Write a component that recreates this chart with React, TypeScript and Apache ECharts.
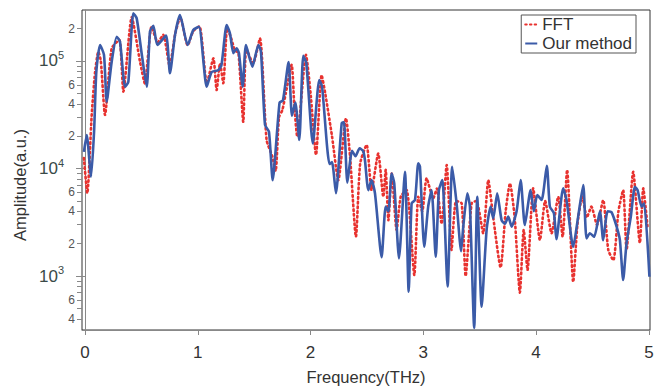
import { useEffect, useRef } from "react";
import * as echarts from "echarts";

const oursFreq = [
  -0.01, 0.015, 0.053, 0.08, 0.1, 0.133, 0.168, 0.192, 0.236, 0.281, 0.31, 0.355, 0.384, 0.428, 0.458, 0.5,
  0.547, 0.576, 0.606, 0.641, 0.718, 0.753, 0.798, 0.842, 0.91, 0.96, 1.01, 1.079, 1.123, 1.18, 1.21, 1.256,
  1.285, 1.315, 1.345, 1.365, 1.398, 1.427, 1.484, 1.537, 1.56, 1.596, 1.631, 1.664, 1.725, 1.755, 1.805, 1.835,
  1.865, 1.9, 1.935, 1.962, 2.02, 2.077, 2.102, 2.168, 2.19, 2.225, 2.276, 2.296, 2.326, 2.368, 2.398, 2.435,
  2.467, 2.482, 2.512, 2.541, 2.571, 2.63, 2.666, 2.69, 2.719, 2.742, 2.784, 2.837, 2.87, 2.896, 2.926, 2.955,
  2.97, 3.008, 3.043, 3.073, 3.11, 3.138, 3.168, 3.215, 3.256, 3.295, 3.335, 3.354, 3.39, 3.413, 3.451, 3.478,
  3.517, 3.561, 3.597, 3.62, 3.655, 3.694, 3.723, 3.753, 3.783, 3.827, 3.863, 3.9, 3.951, 3.98, 4.01, 4.049,
  4.095, 4.122, 4.158, 4.18, 4.24, 4.27, 4.329, 4.373, 4.418, 4.447, 4.477, 4.515, 4.566, 4.595, 4.634, 4.669,
  4.714, 4.743, 4.772, 4.802, 4.84, 4.876, 4.9, 4.935, 4.958, 5.005,
];
const oursAmp = [
  14300, 20500, 8400, 22000, 79000, 141000, 114000, 41900, 98000, 168000, 151000, 57600, 64000, 278000, 249000, 122000,
  57700, 188000, 213000, 141000, 172000, 77000, 175000, 268000, 141000, 194000, 208000, 57700, 79000, 82000, 92000, 216000,
  181000, 118000, 131000, 118000, 57700, 141000, 88500, 141000, 122000, 25400, 22000, 7800, 41000, 43000, 98000, 31000,
  41000, 18400, 112000, 96000, 17100, 66500, 57700, 11000, 11500, 5890, 26300, 27000, 7400, 14600, 13000, 15400,
  14500, 12000, 6300, 7800, 5890, 1500, 4420, 4000, 9000, 7270, 1460, 9330, 715, 4740, 5090, 11200,
  10400, 1870, 4420, 6300, 1510, 6300, 7800, 800, 10400, 4740, 1700, 2880, 5890, 4420, 330, 5470,
  518, 2680, 4420, 3440, 5890, 3300, 3060, 3570, 2880, 4000, 7800, 2980, 6300, 4000, 5660, 5090,
  10600, 4420, 3830, 2200, 6550, 5090, 1870, 3570, 7030, 2240, 2500, 2320, 4000, 2160, 4000, 3920,
  2880, 2160, 918, 2030, 3570, 6770, 6300, 4420, 4740, 985,
];

const fftFreq = [
  -0.01, 0.02, 0.059, 0.089, 0.118, 0.14, 0.177, 0.236, 0.304, 0.34, 0.414, 0.488, 0.53, 0.59, 0.645, 0.694,
  0.75, 0.8, 0.845, 0.91, 0.96, 1.015, 1.08, 1.138, 1.167, 1.197, 1.226, 1.26, 1.29, 1.33, 1.36, 1.403,
  1.43, 1.49, 1.551, 1.61, 1.66, 1.69, 1.72, 1.75, 1.78, 1.832, 1.855, 1.882, 1.959, 2.0, 2.048, 2.098,
  2.13, 2.19, 2.246, 2.314, 2.35, 2.402, 2.44, 2.497, 2.541, 2.6, 2.645, 2.666, 2.69, 2.72, 2.763, 2.8,
  2.852, 2.92, 2.955, 2.99, 3.029, 3.088, 3.12, 3.162, 3.207, 3.25, 3.29, 3.34, 3.375, 3.428, 3.47, 3.531,
  3.576, 3.62, 3.685, 3.73, 3.768, 3.81, 3.856, 3.89, 3.924, 3.974, 4.034, 4.08, 4.137, 4.196, 4.235, 4.275,
  4.329, 4.367, 4.41, 4.45, 4.49, 4.54, 4.595, 4.64, 4.685, 4.73, 4.772, 4.802, 4.861, 4.92, 4.95, 4.988,
];
const fftAmp = [
  12500, 5900, 31500, 79000, 122000, 100000, 31500, 131000, 157000, 51800, 255000, 98000, 62000, 208000, 150000, 175000,
  90000, 180000, 255000, 140000, 190000, 210000, 62000, 106000, 53700, 95000, 62000, 200000, 170000, 125000, 120000, 27200,
  130000, 95000, 162000, 18400, 13000, 9500, 30000, 35000, 50000, 92000, 40000, 19800, 114000, 50000, 13400, 74000,
  50000, 20000, 7800, 29300, 13000, 2320, 11200, 16600, 6300, 13800, 5470, 9700, 3300, 9000, 2680, 5500,
  6300, 1020, 5470, 4000, 8100, 5300, 6500, 3060, 10800, 1750, 5000, 4740, 1000, 4740, 5000, 2500,
  7800, 3500, 1200, 4000, 7270, 3500, 700, 2680, 1140, 6550, 2160, 5000, 2500, 5470, 2320, 9700,
  880, 3060, 5500, 3500, 4420, 3000, 5090, 1750, 1400, 4000, 6300, 1750, 9330, 2030, 6550, 2880,
];

const xTicks = [0, 1, 2, 3, 4, 5];
const yMajor = [1000, 10000, 100000];
const yMinorLabeled = [400, 600, 2000, 4000, 6000, 20000, 40000, 60000, 200000];
const yMinorTicks = [
  400, 500, 600, 700, 800, 900, 2000, 3000, 4000, 5000, 6000, 7000, 8000, 9000,
  20000, 30000, 40000, 50000, 60000, 70000, 80000, 90000, 200000,
];

const FONT = "'Liberation Sans', Arial, sans-serif";

export default function App() {
  const ref = useRef<HTMLDivElement>(null);
  useEffect(() => {
    if (!ref.current) return;
    const chart = echarts.init(ref.current, null, { renderer: "svg" });
    const ours = oursFreq.map((f, i) => [f, oursAmp[i]]);
    const fft = fftFreq.map((f, i) => [f, fftAmp[i]]);
    const yBase = {
      type: "log" as const,
      min: 315,
      max: 298000,
      position: "left" as const,
      splitLine: { show: false },
      minorTick: { show: false },
    };
    chart.setOption({
      animation: false,
      backgroundColor: "#fff",
      textStyle: { fontFamily: FONT },
      grid: {
        left: 82,
        top: 10,
        right: 12,
        bottom: 61,
        show: true,
        borderColor: "#333",
        borderWidth: 1,
      },
      legend: {
        orient: "vertical",
        right: 26,
        top: 15,
        borderColor: "#555",
        borderWidth: 1,
        padding: [1, 4, 1, 3],
        itemGap: 2,
        itemWidth: 12,
        itemHeight: 10,
        itemStyle: { opacity: 0 },
        textStyle: { fontSize: 17, color: "#333", fontFamily: FONT, padding: [0, 0, 0, 0] },
        data: ["FFT", "Our method"],
      },
      xAxis: {
        type: "value",
        min: -0.027,
        max: 5.01,
        name: "Frequency(THz)",
        nameLocation: "middle",
        nameGap: 38,
        nameTextStyle: { fontSize: 16.5, color: "#333", fontFamily: FONT },
        axisLine: { lineStyle: { color: "#888", width: 1 } },
        axisTick: { inside: false, length: 5, customValues: xTicks, lineStyle: { color: "#888" } },
        axisLabel: { customValues: xTicks, fontSize: 17, color: "#333", margin: 14, fontFamily: FONT },
        splitLine: { show: false },
      },
      yAxis: [
        {
          ...yBase,
          name: "Amplitude(a.u.)",
          nameLocation: "middle",
          nameGap: 54,
          nameTextStyle: { fontSize: 16.5, color: "#333", fontFamily: FONT, padding: [0, 30, 0, 0] },
          axisLine: { show: true, lineStyle: { color: "#888", width: 1 } },
          axisTick: { show: true, length: 9, customValues: yMajor, lineStyle: { color: "#888" } },
          axisLabel: {
            customValues: yMajor,
            margin: 18,
            formatter: (v: number) => `{b|10}{s|${Math.round(Math.log10(v))}}`,
            rich: {
              b: { fontSize: 17, color: "#3a4a48", fontFamily: FONT },
              s: { fontSize: 11, color: "#3a4a48", fontFamily: FONT, padding: [0, 0, 12, 0] },
            },
          },
        },
        {
          ...yBase,
          axisLine: { show: false },
          axisTick: { show: true, length: 5, customValues: yMinorTicks, lineStyle: { color: "#888" } },
          axisLabel: {
            customValues: yMinorLabeled,
            margin: 7,
            fontSize: 12,
            color: "#555",
            fontFamily: FONT,
            formatter: (v: number) => String(Math.round(v / Math.pow(10, Math.floor(Math.log10(v))))),
          },
        },
      ],
      series: [
        {
          name: "FFT",
          type: "line",
          data: fft,
          showSymbol: false,
          symbol: "none",
          smooth: 0.2,
          itemStyle: { color: "#e8322f" },
          lineStyle: { color: "#e8322f", width: 2.6, type: [1.5, 3.2], cap: "round" },
          z: 2,
        },
        {
          name: "Our method",
          type: "line",
          data: ours,
          showSymbol: false,
          symbol: "none",
          smooth: 0.2,
          itemStyle: { color: "#3b5ba8" },
          lineStyle: { color: "#3b5ba8", width: 2.6 },
          z: 3,
        },
      ],
    });
    return () => chart.dispose();
  }, []);
  return (
    <div
      ref={ref}
      style={{ position: "fixed", left: 0, top: 0, width: 662, height: 391, background: "#fff" }}
    />
  );
}
